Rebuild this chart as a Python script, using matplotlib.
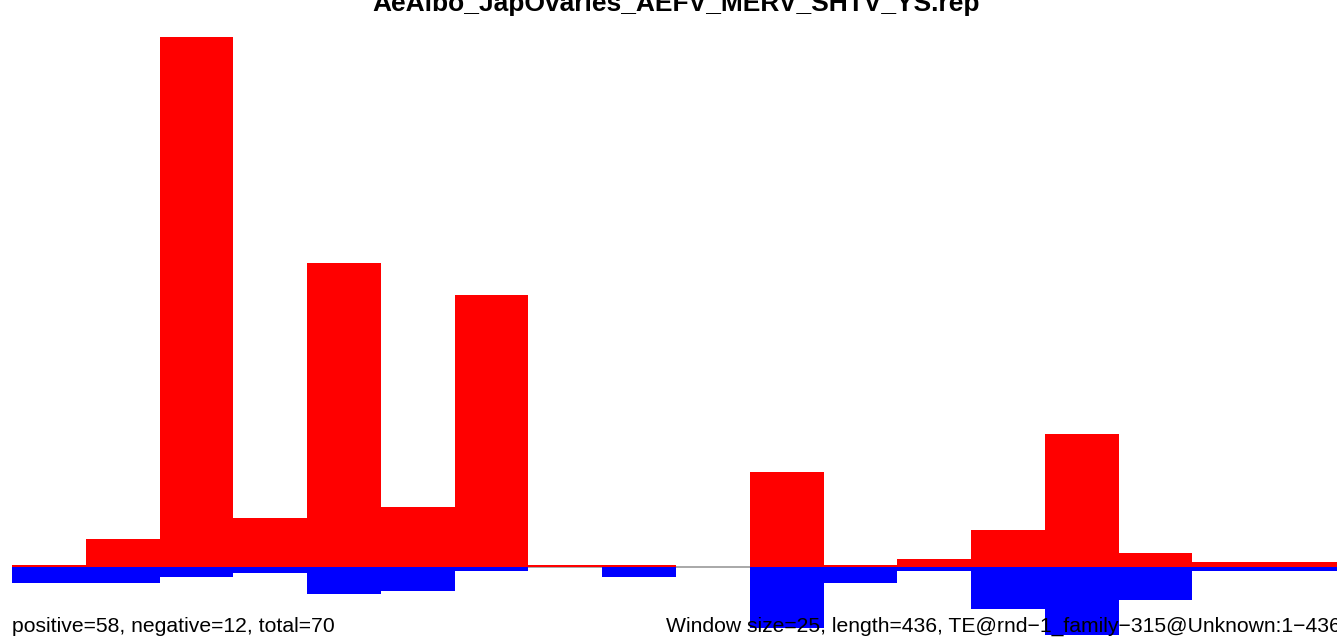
import numpy as np
import matplotlib.pyplot as plt

plt.rcParams['font.family'] = ['Liberation Sans', 'DejaVu Sans']

title = 'AeAlbo_JapOvaries_AEFV_MERV_SHTV_YS.rep'
window = 25
starts = np.arange(18) * window
positive = [0.2, 3.1, 58.0, 5.4, 33.3, 6.6, 29.8, 0.2, 0.2, 0.0,
            10.4, 0.2, 0.9, 4.0, 14.6, 1.5, 0.5, 0.5]
negative = [1.75, 1.75, 1.1, 0.65, 2.9, 2.6, 0.45, 0.0, 1.1, 0.0,
            6.7, 1.75, 0.45, 4.6, 7.4, 3.6, 0.45, 0.45]
left_note = 'positive=58, negative=12, total=70'
right_note = 'Window size=25, length=436, TE@rnd\u22121_family\u2212315@Unknown:1\u2212436'

W, H = 1337, 639
fig = plt.figure(figsize=(W / 100, H / 100), dpi=100)
ax = fig.add_axes([12 / W, 0, 1328 / W, (H - 37) / H])

ax.axhline(0, color='#999999', lw=1.2, zorder=1)
ax.bar(starts, positive, width=window, align='edge', color='#ff0000',
       linewidth=0, zorder=2)
ax.bar(starts, [-v for v in negative], width=window, align='edge',
       color='#0000ff', linewidth=0, zorder=2)

ax.set_xlim(0, 18 * window)
ax.set_ylim(-(H - 567) / ((567 - 37) / 58), 58)
ax.axis('off')

# title sits partly above the top edge, as in the original
fig.text(676 / W, 1 - 11 / H, title, ha='center', va='baseline',
         fontsize=19, fontweight='bold')
fig.text(12 / W, 1 - 632 / H, left_note, ha='left', va='baseline',
         fontsize=15.2, zorder=5)
fig.text(1341 / W, 1 - 632 / H, right_note, ha='right', va='baseline',
         fontsize=15.2, zorder=5)

fig.savefig('out.png', dpi=100)
